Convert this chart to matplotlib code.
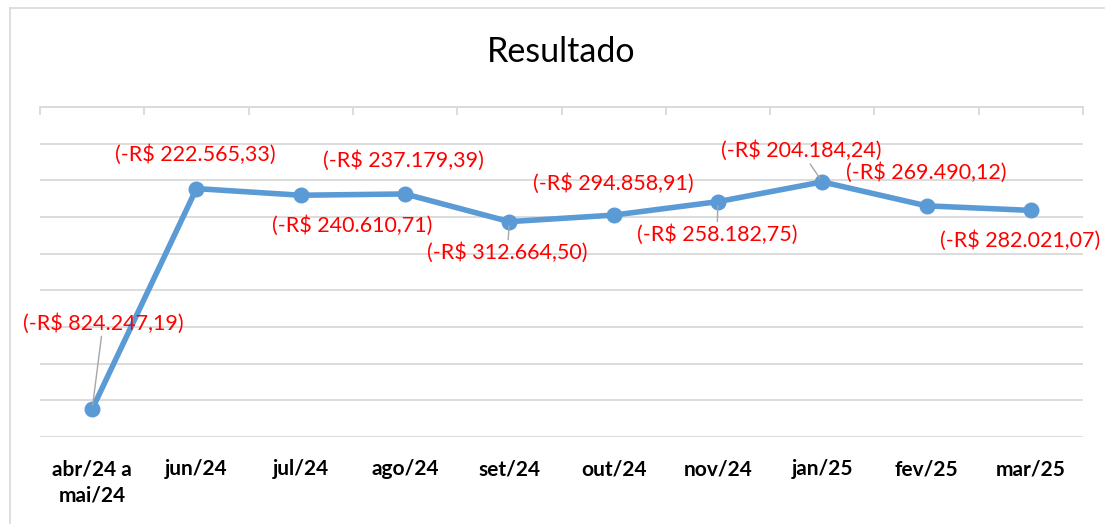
import matplotlib
matplotlib.use('Agg')
import matplotlib.pyplot as plt
from matplotlib.lines import Line2D
import numpy as np

plt.rcParams['font.family'] = ['Lato', 'DejaVu Sans']

categories = ['abr/24 a\nmai/24', 'jun/24', 'jul/24', 'ago/24', 'set/24',
              'out/24', 'nov/24', 'jan/25', 'fev/25', 'mar/25']
resultado = [-824247.19, -222565.33, -240610.71, -237179.39, -312664.50,
             -294858.91, -258182.75, -204184.24, -269490.12, -282021.07]

# label offsets in pixels (dx, dy) and whether a leader line is drawn
offsets = [(11, 86), (-1, 34), (51, -30), (-2, 33), (-2, -31),
           (0, 32), (-1, -33), (-21, 31), (0, 33), (-11, -30)]
leaders = [True, False, False, False, True, False, True, True, False, False]


def brl(v):
    s = f'{abs(v):,.2f}'.replace(',', 'X').replace('.', ',').replace('X', '.')
    return f'(-R$ {s})'


W, H = 1105, 524
fig = plt.figure(figsize=(W / 100, H / 100), dpi=100)
ax = fig.add_axes([40 / W, 1 - 437 / H, (1083 - 40) / W, (437 - 107) / H])

x = np.arange(len(categories))
ax.plot(x, resultado, color='#5b9bd5', lw=4, marker='o', ms=10.5,
        solid_capstyle='round', solid_joinstyle='round', zorder=3)

ax.set_xlim(-0.5, len(categories) - 0.5)
ax.set_ylim(-900000, 0)
ax.set_yticks(np.arange(-900000, 1, 100000))
ax.set_yticklabels([])
ax.grid(axis='y', color='#d9d9d9', lw=1.3)
ax.tick_params(axis='y', length=0)
for s in ['left', 'right', 'bottom']:
    ax.spines[s].set_visible(False)
ax.spines['top'].set_color('#d9d9d9')
ax.spines['top'].set_linewidth(1.3)

ax.set_xticks(x)
ax.set_xticklabels(categories, fontsize=15, fontweight='bold', color='black',
                   linespacing=1.4)
ax.tick_params(axis='x', which='major', length=0, pad=16)
ax.set_xticks(np.arange(-0.5, len(categories), 1), minor=True)
ax.tick_params(axis='x', which='minor', bottom=False, top=True, direction='in',
               length=6, color='#d9d9d9', width=1.3)

for i, v in enumerate(resultado):
    dx, dy = offsets[i]
    kw = {}
    if leaders[i]:
        kw['arrowprops'] = dict(arrowstyle='-', color='#a6a6a6', lw=1,
                                shrinkA=0, shrinkB=3)
    ax.annotate(brl(v), (i, v), xytext=(dx, dy), textcoords='offset pixels',
                ha='center', va='center', color='#ff0000', fontsize=15.5,
                zorder=4, **kw)

fig.text(561 / W, 1 - 52 / H, 'Resultado', ha='center', va='center',
         fontsize=24.5, color='black')

# chart frame
fig.add_artist(Line2D([9.5 / W, 9.5 / W], [0, 1 - 7.5 / H],
                      color='#d9d9d9', lw=1.2))
fig.add_artist(Line2D([9.5 / W, 1104 / W], [1 - 7.5 / H, 1 - 7.5 / H],
                      color='#d9d9d9', lw=1.2))

fig.savefig('out.png', dpi=100, facecolor='white')
